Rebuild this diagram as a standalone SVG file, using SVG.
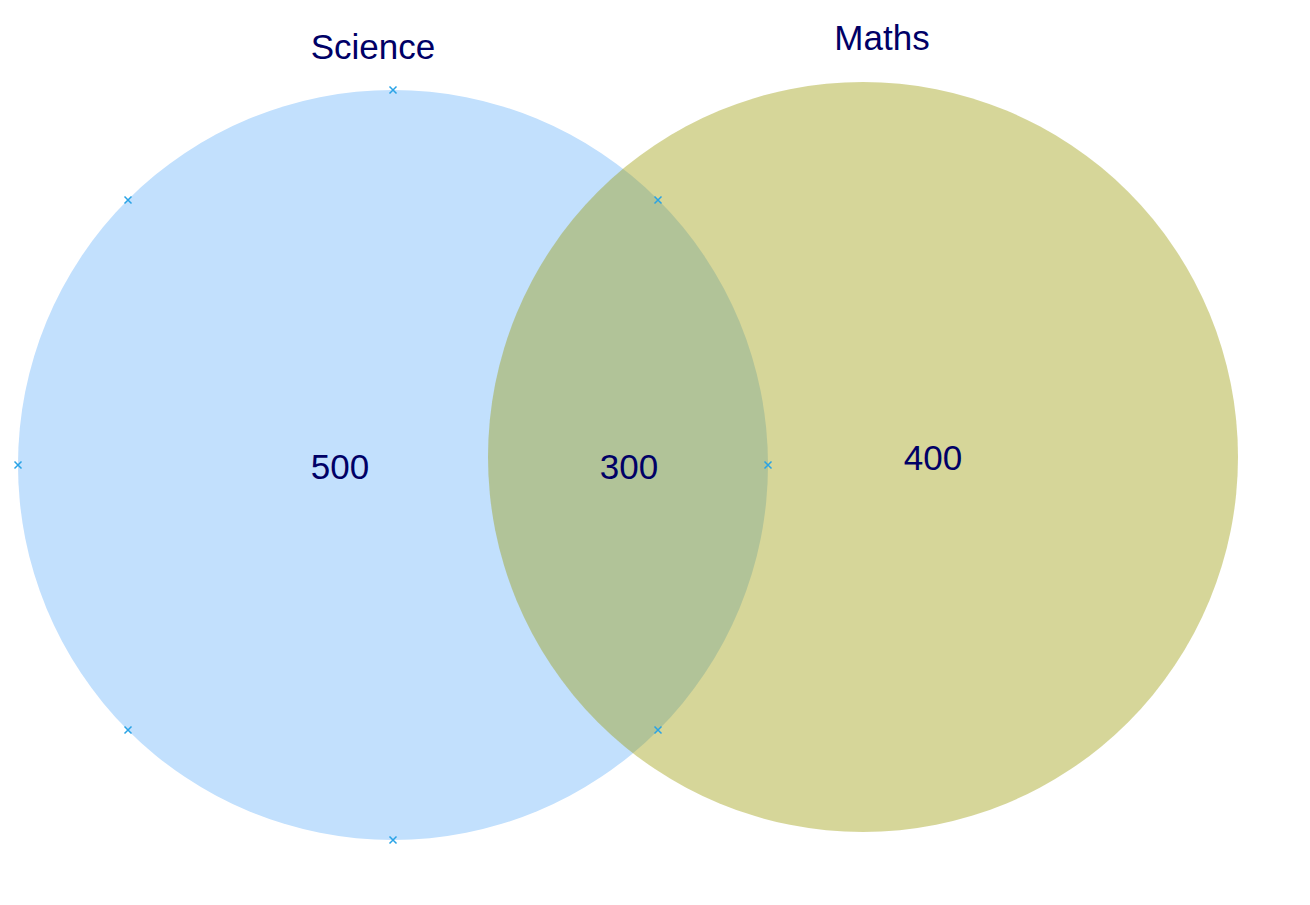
<svg xmlns="http://www.w3.org/2000/svg" width="1310" height="905" viewBox="0 0 1310 905">
<style>
text{font-family:"Liberation Sans",Arial,sans-serif;font-size:35px;fill:#000066;text-anchor:middle}
.mk{stroke:#29a3e6;stroke-width:1.5;fill:none}
</style>
<defs>
<path id="x" class="mk" d="M-3.5,-3.5L3.5,3.5M-3.5,3.5L3.5,-3.5"/>
</defs>
<rect width="1310" height="905" fill="#ffffff"/>
<g id="science">
<circle cx="393" cy="465" r="375" fill="#c2e0fd"/>
</g>
<g id="maths">
<circle cx="863" cy="457" r="375" fill="#999900" fill-opacity="0.4"/>
</g>
<g id="markers">
<use href="#x" x="393" y="90"/>
<use href="#x" x="128" y="200"/>
<use href="#x" x="18" y="465"/>
<use href="#x" x="128" y="730"/>
<use href="#x" x="393" y="840"/>
<use href="#x" x="658" y="730"/>
<use href="#x" x="768" y="465"/>
<use href="#x" x="658" y="200"/>
</g>
<g id="labels">
<text x="373" y="59">Science</text>
<text x="882" y="50">Maths</text>
<text x="340" y="479">500</text>
<text x="629" y="479">300</text>
<text x="933" y="470">400</text>
</g>
</svg>
